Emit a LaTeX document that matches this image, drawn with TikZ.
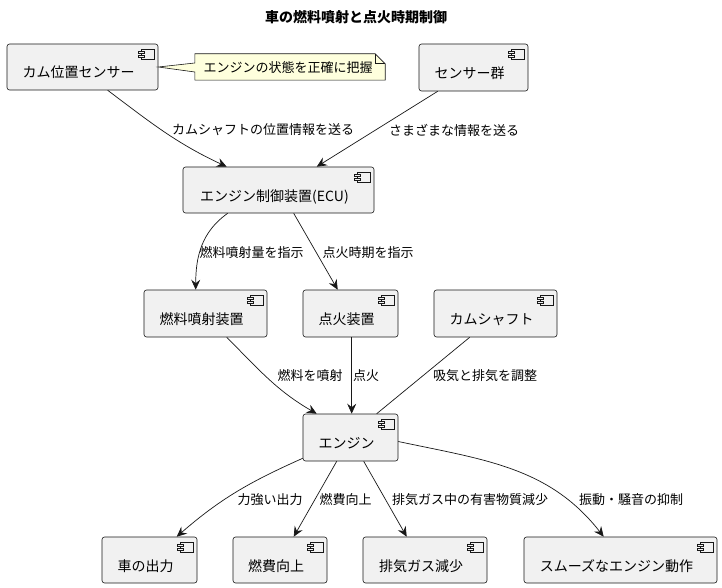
\documentclass[tikz,border=0pt]{standalone}
\usepackage{fontspec}
\setmainfont{Noto Sans CJK JP}
\usetikzlibrary{arrows.meta}
\definecolor{boxfill}{HTML}{F1F1F1}
\definecolor{edgecol}{HTML}{181818}
\definecolor{notefill}{HTML}{FEFFDD}
\tikzset{
  comp/.style={draw=edgecol, fill=boxfill, rounded corners=2.5pt, line width=0.6pt,
    font=\fontsize{14pt}{16pt}\selectfont, text height=22pt, text depth=0pt,
    inner sep=0pt, execute at end node={\hspace*{8pt}}},
  iconpart/.style={draw=edgecol, fill=boxfill, line width=0.5pt, sharp corners},
  conn/.style={draw=edgecol, line width=0.7pt, -{Stealth[length=10pt,width=9pt,inset=3.5pt]}},
  plain/.style={draw=edgecol, line width=0.7pt},
  lbl/.style={font=\fontsize{13pt}{15pt}\selectfont, inner sep=0pt, text=black},
  notetext/.style={font=\fontsize{13pt}{15pt}\selectfont, inner sep=0pt, minimum width=190pt, minimum height=26pt}
}
\begin{document}
\begin{tikzpicture}[x=1pt, y=-1pt]
\useasboundingbox (0,0) rectangle (722,588);
\fill[white] (0,0) rectangle (722,588);

\node[font=\fontsize{14pt}{16pt}\selectfont\bfseries] (title) at (356,17) {車の燃料噴射と点火時期制御};

\node[comp, minimum width=151pt, minimum height=46pt] (cam) at (82.5,67) {カム位置センサー};
\node[comp, minimum width=109pt, minimum height=47pt] (sens) at (473.5,67.5) {センサー群};
\node[comp, minimum width=191pt, minimum height=46pt] (ecu) at (278.5,190) {エンジン制御装置(ECU)};
\node[comp, minimum width=123pt, minimum height=47pt] (fuel) at (205.5,313.5) {燃料噴射装置};
\node[comp, minimum width=95pt, minimum height=47pt] (ign) at (350.5,313.5) {点火装置};
\node[comp, minimum width=123pt, minimum height=47pt] (cs) at (495.5,313.5) {カムシャフト};
\node[comp, minimum width=95pt, minimum height=47pt] (eng) at (350.5,437.5) {エンジン};
\node[comp, minimum width=95pt, minimum height=46pt] (out) at (149.5,560) {車の出力};
\node[comp, minimum width=94pt, minimum height=46pt] (econ) at (280,560) {燃費向上};
\node[comp, minimum width=124pt, minimum height=46pt] (exh) at (425,560) {排気ガス減少};
\node[comp, minimum width=193pt, minimum height=46pt] (smooth) at (620.5,560) {スムーズなエンジン動作};

% component icons
\foreach \n in {cam,sens,ecu,fuel,ign,cs,eng,out,econ,exh,smooth}{
  \begin{scope}[shift={(\n.north east)}]
    \draw[iconpart] (-17,5.5) rectangle (-4,15.5);
    \draw[iconpart] (-20,7.5) rectangle (-14.5,9.5);
    \draw[iconpart] (-20,11.5) rectangle (-14.5,13.5);
  \end{scope}
}

% note
\node[notetext] (note) at (290,67) {};
\draw[draw=edgecol, fill=notefill, line width=0.6pt]
  (note.north west) -- ([xshift=-10pt]note.north east) -- ([yshift=-10pt]note.north east)
  -- (note.south east) -- (note.south west) -- ([yshift=-5pt]note.west)
  -- (cam.east) -- ([yshift=4pt]note.west) -- cycle;
\draw[draw=edgecol, line width=0.6pt] ([xshift=-10pt]note.north east) -- ([xshift=-10pt,yshift=-10pt]note.north east) -- ([yshift=-10pt]note.north east);
\node[lbl] at (288,68) {エンジンの状態を正確に把握};

% edges
\draw[conn] ([xshift=101pt]cam.south west) to[out=-37, in=155] ([xshift=44pt]ecu.north west)
  node[lbl] at (263,130) {カムシャフトの位置情報を送る};
\draw[conn] ([xshift=19pt]sens.south west) -- ([xshift=134pt]ecu.north west)
  node[lbl] at (454,130) {さまざまな情報を送る};
\draw[conn] ([xshift=45pt]ecu.south west) to[out=215, in=90] ([xshift=52pt]fuel.north west)
  node[lbl] at (251.5,253) {燃料噴射量を指示};
\draw[conn] ([xshift=111pt]ecu.south west) -- ([xshift=35pt]ign.north west)
  node[lbl] at (368,253) {点火時期を指示};
\draw[conn] ([xshift=83pt]fuel.south west) to[out=-45, in=150] ([xshift=14pt]eng.north west)
  node[lbl] at (310,376) {燃料を噴射};
\draw[conn] ([xshift=49pt]ign.south west) -- ([xshift=49pt]eng.north west)
  node[lbl] at (366,376) {点火};
\draw[plain] ([xshift=36pt]cs.south west) -- ([xshift=74pt]eng.north west)
  node[lbl] at (485,376) {吸気と排気を調整};
\draw[conn] ([yshift=3pt]eng.south west) to[out=204, in=41] ([xshift=75pt]out.north west)
  node[lbl] at (270,500) {力強い出力};
\draw[conn] ([xshift=34pt]eng.south west) -- ([xshift=61pt]econ.north west)
  node[lbl] at (345.5,500) {燃費向上};
\draw[conn] ([xshift=61pt]eng.south west) -- ([xshift=44pt]exh.north west)
  node[lbl] at (470,500) {排気ガス中の有害物質減少};
\draw[conn] ([yshift=-4pt]eng.east) to[out=-12, in=128] ([xshift=80pt]smooth.north west)
  node[lbl] at (631,500) {振動・騒音の抑制};
\end{tikzpicture}
\end{document}
